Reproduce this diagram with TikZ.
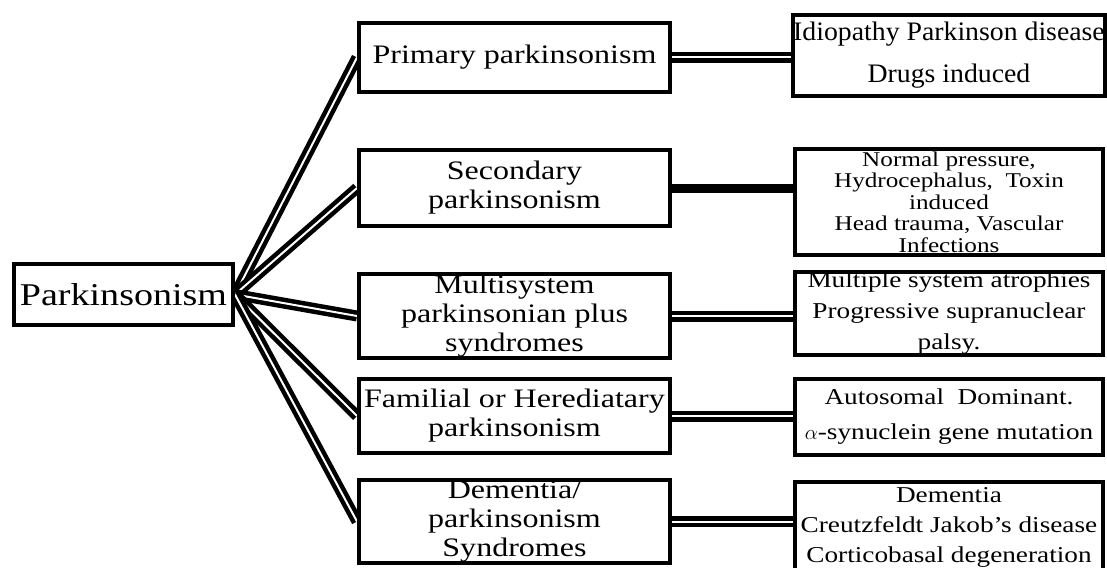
\documentclass[tikz,border=0pt]{standalone}
\usepackage{fontspec}
\setmainfont{Liberation Serif}[FakeStretch=1.2]
\newfontfamily\narrowserif{Liberation Serif}[FakeStretch=1.04]
\usetikzlibrary{backgrounds}
\begin{document}
\begin{tikzpicture}[x=1pt, y=-1pt,
    box/.style={draw, line width=4pt, fill=white, inner sep=0pt, align=center},
    mbox/.style={box, minimum width=311pt, font=\fontsize{26.7}{29}\selectfont},
    rbox/.style={box, minimum width=308pt, font=\fontsize{22.7}{31.5}\selectfont},
    link/.style={double, line width=4.5pt, double distance=2pt}]
  \useasboundingbox (0,0) rectangle (1107,567);
  \node[box, minimum width=219pt, minimum height=61pt,
        font=\fontsize{31.7}{34}\selectfont] (root) at (123.5,294.5) {Parkinsonism};
  \node[mbox, minimum height=69pt] (m1) at (514.5,57.5) {Primary parkinsonism};
  \node[mbox, minimum height=76pt] (m2) at (514.5,188) {Secondary\\parkinsonism};
  \node[mbox, minimum height=84pt] (m3) at (514.5,316) {Multisystem\\parkinsonian plus\\syndromes};
  \node[mbox, minimum height=74pt] (m4) at (514.5,416) {Familial or Herediatary\\parkinsonism};
  \node[mbox, minimum height=83pt] (m5) at (514.5,521.5) {Dementia/\\parkinsonism\\Syndromes};
  \node[rbox, minimum height=106pt, font=\narrowserif\fontsize{26.7}{42}\selectfont,
        minimum height=81pt] (r1) at (949,55.5) {Idiopathy Parkinson disease\\Drugs induced};
  \node[rbox, minimum height=106pt, font=\fontsize{21}{21.5}\selectfont]
       (r2) at (949,202) {Normal pressure,\\Hydrocephalus,~ Toxin\\induced\\Head trauma, Vascular\\Infections};
  \node[rbox, minimum height=83pt, font=\fontsize{22.7}{31}\selectfont]
       (r3) at (949,313.5) {Multiple system atrophies\\Progressive supranuclear\\palsy.};
  \node[rbox, minimum height=76pt, font=\fontsize{22.7}{35}\selectfont]
       (r4) at (949,417) {Autosomal~ Dominant.\\$\alpha$-synuclein gene mutation};
  \node[rbox, anchor=north, font=\fontsize{22.7}{30}\selectfont] (r5) at (949,480)
       {\parbox[c][100pt][t]{300pt}{\centering\rule{0pt}{20pt}Dementia\\
        Creutzfeldt Jakob's disease\\Corticobasal degeneration}};
  \begin{scope}[on background layer]
    \foreach \m in {m1,m2,m3,m4,m5}
      \draw[link] (root.east) -- (\m.west);
    \foreach \m/\r in {m1/r1, m3/r3, m4/r4, m5/r5}
      \draw[link] (\m.east) -- (\m.east -| \r.west);
    \draw[line width=9pt] (m2.east) -- (m2.east -| r2.west);
  \end{scope}
\end{tikzpicture}
\end{document}
